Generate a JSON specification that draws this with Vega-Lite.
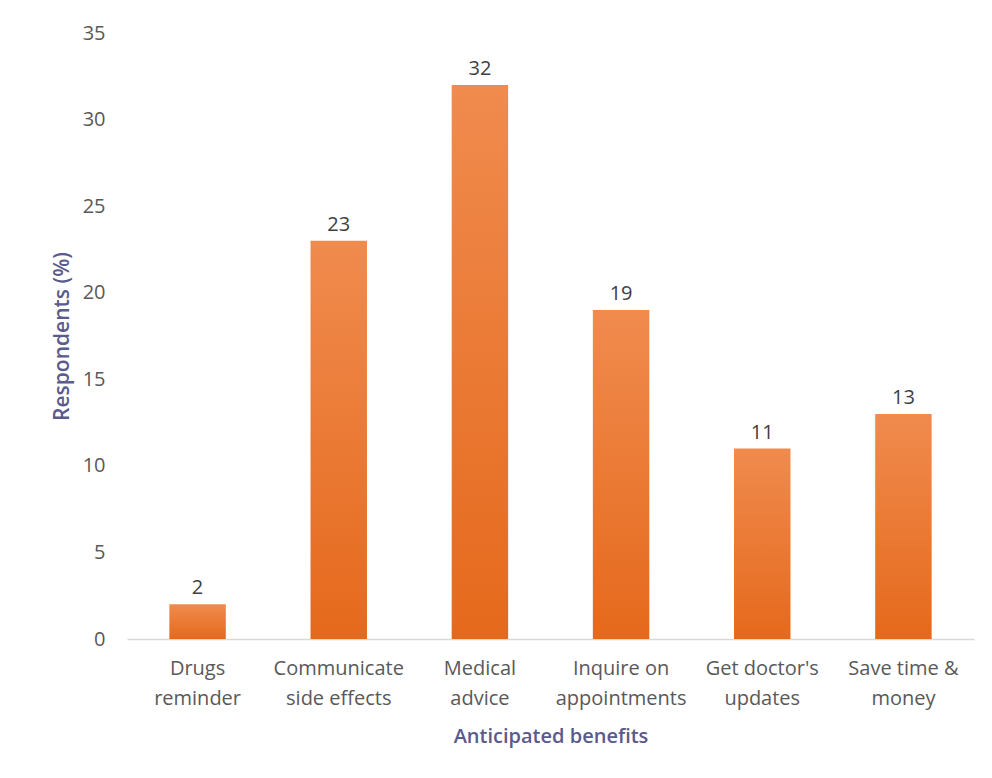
{
  "$schema": "https://vega.github.io/schema/vega-lite/v6.json",
  "width": 847,
  "height": 606,
  "autosize": {"type": "none"},
  "padding": {"left": 127, "top": 33, "right": 18, "bottom": 139},
  "background": "white",
  "config": {
    "view": {"stroke": null},
    "font": "Open Sans"
  },
  "data": {
    "values": [
      {"benefit": "Drugs|reminder", "pct": 2},
      {"benefit": "Communicate|side effects", "pct": 23},
      {"benefit": "Medical|advice", "pct": 32},
      {"benefit": "Inquire on|appointments", "pct": 19},
      {"benefit": "Get doctor's|updates", "pct": 11},
      {"benefit": "Save time &|money", "pct": 13}
    ]
  },
  "encoding": {
    "x": {
      "field": "benefit",
      "type": "nominal",
      "sort": null,
      "scale": {"paddingInner": 0.6, "paddingOuter": 0.3},
      "axis": {
        "title": "Anticipated benefits",
        "labelAngle": 0,
        "labelExpr": "split(datum.label, '|')",
        "labelFont": "Open Sans",
        "labelFontSize": 20,
        "labelColor": "#595959",
        "labelLineHeight": 30,
        "labelPadding": 19,
        "ticks": false,
        "domainColor": "#d9d9d9",
        "domainWidth": 1.5,
        "titleFont": "Open Sans",
        "titleFontSize": 20,
        "titleFontWeight": 600,
        "titleColor": "#5a5a8c",
        "titlePadding": 18
      }
    },
    "y": {
      "field": "pct",
      "type": "quantitative",
      "scale": {"domain": [0, 35]},
      "axis": {
        "title": "Respondents (%)",
        "values": [0, 5, 10, 15, 20, 25, 30, 35],
        "grid": false,
        "domain": false,
        "ticks": false,
        "labelFont": "Open Sans",
        "labelFontSize": 20,
        "labelColor": "#595959",
        "labelPadding": 22,
        "titleFont": "Open Sans",
        "titleFontSize": 21,
        "titleFontWeight": 600,
        "titleColor": "#5a5a8c",
        "titlePadding": 10
      }
    }
  },
  "layer": [
    {
      "mark": {
        "type": "bar",
        "color": {
          "gradient": "linear",
          "x1": 0, "y1": 0, "x2": 0, "y2": 1,
          "stops": [
            {"offset": 0, "color": "#f08b4e"},
            {"offset": 1, "color": "#e5691c"}
          ]
        }
      }
    },
    {
      "mark": {
        "type": "text",
        "baseline": "bottom",
        "dy": -6,
        "font": "Open Sans",
        "fontSize": 20,
        "color": "#404040"
      },
      "encoding": {"text": {"field": "pct", "type": "quantitative"}}
    }
  ]
}
